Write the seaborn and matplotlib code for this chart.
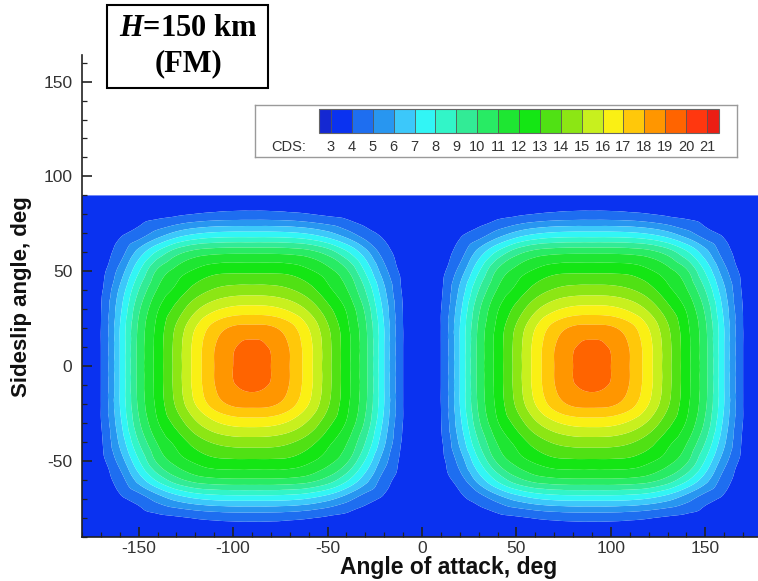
import numpy as np
import matplotlib
matplotlib.use("Agg")
import matplotlib.pyplot as plt
import matplotlib.patches as mpatches
import matplotlib.tri as mtri
from matplotlib.colors import ListedColormap, BoundaryNorm
from matplotlib.ticker import MultipleLocator
import seaborn as sns

# ---------------- data ----------------
# Distances (deg) from a lobe centre (alpha = +-90, beta = 0)
dist_alpha = [0, 10, 20, 30, 40, 50, 60, 70, 80, 90]
dist_beta = [0, 10, 20, 30, 40, 50, 60, 70, 80, 90]
# CDS values for one quadrant of a lobe: rows = |beta| distance, cols = |alpha| distance
cds_b0 = [19.8, 19.0, 18.0, 16.4, 14.4, 12.4, 10.3, 7.0, 4.0, 3.4]
cds_b10 = [19.3, 18.9, 17.95, 16.38, 14.4, 12.4, 10.3, 7.0, 4.0, 3.4]
cds_b20 = [18.3, 18.18, 17.43, 16.0, 14.17, 12.3, 10.2, 7.0, 4.0, 3.4]
cds_b30 = [16.4, 16.3, 15.8, 14.8, 13.35, 11.9, 9.8, 6.7, 3.97, 3.4]
cds_b40 = [14.5, 14.45, 14.13, 13.42, 12.3, 11.1, 9.0, 6.2, 3.85, 3.4]
cds_b50 = [12.8, 12.8, 12.7, 12.2, 11.4, 10.2, 7.9, 5.4, 3.7, 3.4]
cds_b60 = [10.8, 10.8, 10.7, 10.4, 9.6, 8.2, 6.4, 4.5, 3.55, 3.4]
cds_b70 = [7.3, 7.3, 7.2, 6.9, 6.3, 5.4, 4.4, 3.8, 3.4, 3.4]
cds_b80 = [4.3, 4.28, 4.2, 4.05, 3.85, 3.7, 3.55, 3.42, 3.4, 3.4]
cds_b90 = [3.4, 3.4, 3.4, 3.4, 3.4, 3.4, 3.4, 3.4, 3.4, 3.4]

levels = [3, 4, 5, 6, 7, 8, 9, 10, 11, 12, 13, 14, 15, 16, 17, 18, 19, 20, 21]
band_colors = ['#0a32f0', '#1e6ef0', '#2896f0', '#3cc8fa', '#32f5f5', '#32f5c8',
               '#32eb96', '#28eb64', '#1ee632', '#14e614', '#50e114', '#8ce614',
               '#c8f01e', '#faf014', '#ffc80a', '#ff9600', '#ff6400', '#ff370f']
under_color = '#1428d2'
over_color = '#eb1e14'

x_ticks = [-150, -100, -50, 0, 50, 100, 150]
y_ticks = [-50, 0, 50, 100, 150]

# ---------------- build the full grid by mirroring the quadrant ----------------
quad = np.array([cds_b0, cds_b10, cds_b20, cds_b30, cds_b40,
                 cds_b50, cds_b60, cds_b70, cds_b80, cds_b90])
alpha = np.arange(-180, 181, 10)
beta = np.arange(-90, 91, 10)
d_idx = (np.abs(np.abs(alpha) - 90) // 10).astype(int)
e_idx = (np.abs(beta) // 10).astype(int)
Z = quad[np.ix_(e_idx, d_idx)]
A, B = np.meshgrid(alpha, beta)

# smooth contouring with matplotlib's own triangulation refiner
tri = mtri.Triangulation(A.ravel().astype(float), B.ravel().astype(float))
refiner = mtri.UniformTriRefiner(tri)
interp = mtri.CubicTriInterpolator(tri, Z.ravel(), kind='geom')
tri_f, z_f = refiner.refine_field(Z.ravel(), triinterpolator=interp, subdiv=3)
z_f = np.clip(z_f, 3.05, None)

# ---------------- style ----------------
sns.set_theme(style="ticks")
plt.rcParams['font.family'] = ['Liberation Sans', 'DejaVu Sans']
plt.rcParams['axes.unicode_minus'] = False
plt.rcParams['mathtext.fontset'] = 'custom'
plt.rcParams['mathtext.it'] = 'Liberation Serif:italic:bold'
plt.rcParams['mathtext.rm'] = 'Liberation Serif:bold'

W, H = 758, 581
fig = plt.figure(figsize=(W / 100, H / 100), dpi=100)
fig.patch.set_facecolor('white')

ax = fig.add_axes([82 / W, 44 / H, 680 / W, 482 / H])
ax.set_facecolor('white')

cmap = ListedColormap(band_colors)
cmap.set_under(under_color)
cmap.set_over(over_color)
norm = BoundaryNorm(levels, cmap.N)

cf = ax.tricontourf(tri_f, z_f, levels=levels, cmap=cmap, norm=norm,
                    extend='both', antialiased=True)

ax.set_xlim(-180, 180)
ax.set_ylim(-90, 164)
for s in ['top', 'right']:
    ax.spines[s].set_visible(False)
for s in ['left', 'bottom']:
    ax.spines[s].set_color('#222222')
    ax.spines[s].set_linewidth(1.2)
    ax.spines[s].set_zorder(5)

ax.set_xticks(x_ticks)
ax.set_yticks(y_ticks)
ax.set_xticklabels([str(v) for v in x_ticks])
ax.set_yticklabels([str(v) for v in y_ticks])
ax.xaxis.set_minor_locator(MultipleLocator(10))
ax.yaxis.set_minor_locator(MultipleLocator(10))
ax.tick_params(which='major', direction='in', length=7, width=1.2, color='#222222',
               labelsize=12.5, labelcolor='#333333', top=False, right=False)
ax.tick_params(which='minor', direction='in', length=3.5, width=0.9, color='#222222',
               top=False, right=False)
ax.tick_params(axis='x', which='major', pad=3)
ax.tick_params(axis='y', which='major', pad=7)
ax.set_axisbelow(False)

fig.text(449 / W, 1 - 574 / H, 'Angle of attack, deg', ha='center', va='baseline',
         fontsize=16.5, fontweight='bold', color='#111111')
fig.text(22 / W, 1 - 297 / H, 'Sideslip angle, deg', ha='center', va='center',
         rotation=90, fontsize=16, fontweight='bold', color='#111111')

# ---------------- title box ----------------
rect = mpatches.Rectangle((107 / W, 1 - 88 / H), 161 / W, 83 / H,
                          transform=fig.transFigure, facecolor='white',
                          edgecolor='black', linewidth=1.5, zorder=10)
fig.patches.append(rect)
fig.text(188 / W, 1 - 29 / H, '$H$=150 km', ha='center', va='center',
         fontsize=22, fontweight='bold', family='Liberation Serif', color='black', zorder=11)
fig.text(188 / W, 1 - 64 / H, '(FM)', ha='center', va='center',
         fontsize=22, fontweight='bold', family='Liberation Serif', color='black', zorder=11)

# ---------------- legend box with colour bar ----------------
lax = fig.add_axes([255 / W, 1 - 157 / H, 482 / W, 52 / H])
lax.set_facecolor('white')
lax.set_xticks([])
lax.set_yticks([])
for s in lax.spines.values():
    s.set_color('#9a9a9a')
    s.set_linewidth(1.0)
    s.set_visible(True)

cax = fig.add_axes([319 / W, 1 - 133 / H, 400 / W, 24 / H])
cb = fig.colorbar(cf, cax=cax, orientation='horizontal', extend='both',
                  extendrect=True, extendfrac=0.032, drawedges=True, ticks=levels)
cb.outline.set_edgecolor('#666666')
cb.outline.set_linewidth(0.8)
cb.dividers.set_color('#555555')
cb.dividers.set_linewidth(0.6)
cb.ax.tick_params(length=0, labelsize=10.5, labelcolor='#333333', pad=5)
cb.ax.set_xticklabels([str(v) for v in levels])
fig.text(271 / W, 1 - 147 / H, 'CDS:', ha='left', va='center', fontsize=10.5,
         color='#333333')

fig.savefig('out.png', dpi=100)
